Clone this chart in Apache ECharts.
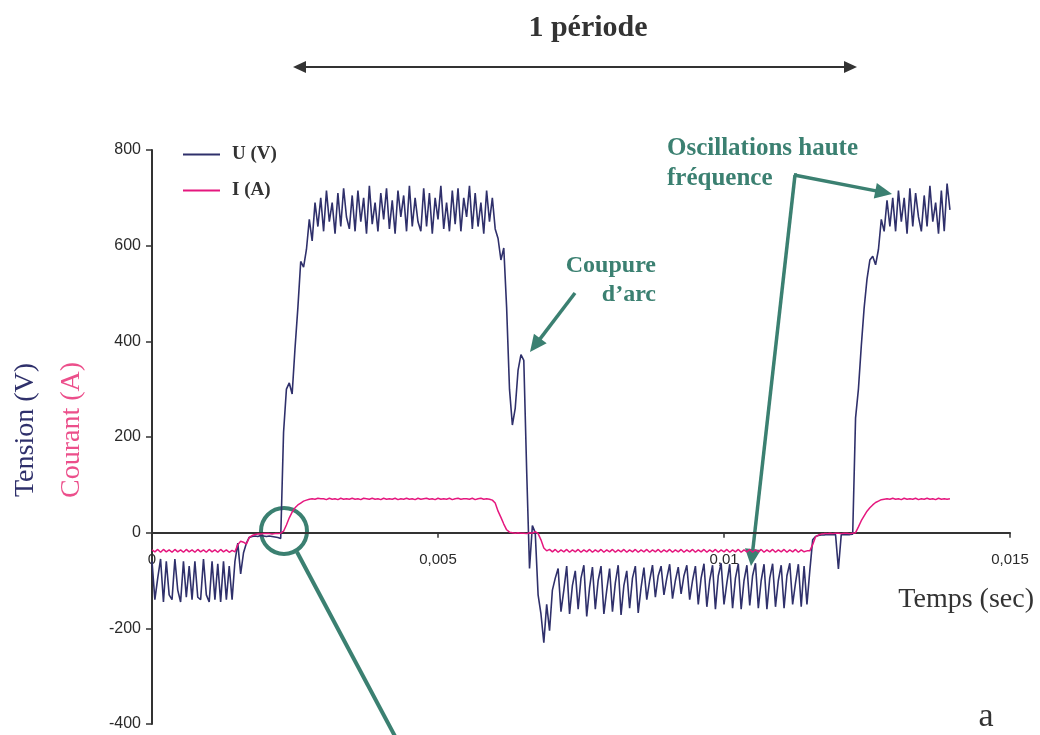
<!DOCTYPE html>
<html>
<head>
<meta charset="utf-8">
<script src="https://cdn.jsdelivr.net/npm/echarts@6/dist/echarts.min.js"></script>
<style>
html,body{margin:0;padding:0;background:#fff;}
#chart{width:1040px;height:735px;}
</style>
</head>
<body>
<div id="chart"></div>
<script>
// sampling step (s) of the recorded signals
const sampleStep = 0.00005;

// Voltage U (V), one value per sample, 10 samples per row
const voltage = [
  -60, -140, -95, -55, -145, -60, -130, -140, -55, -120,
  -145, -60, -135, -70, -140, -60, -135, -140, -55, -130,
  -145, -60, -140, -65, -145, -60, -140, -70, -140, -60,
  -22, -86, -42, -22, -10, -8, -7, -8, -6, -7,
  -8, -7, -8, -9, -10, -12, 210, 300, 313, 290,
  385, 470, 567, 555, 592, 655, 610, 690, 640, 700,
  630, 715, 650, 690, 625, 710, 640, 720, 660, 635,
  705, 630, 715, 650, 700, 625, 725, 645, 690, 630,
  710, 655, 720, 635, 695, 625, 715, 660, 705, 630,
  725, 640, 700, 650, 630, 720, 640, 710, 625, 700,
  655, 725, 635, 690, 630, 715, 645, 720, 630, 700,
  660, 725, 635, 710, 640, 690, 625, 715, 650, 700,
  635, 615, 570, 595, 470, 300, 225, 260, 340, 372,
  360, 130, -75, 15, 0, -130, -170, -230, -150, -205,
  -120, -95, -75, -165, -120, -70, -170, -110, -80, -160,
  -95, -68, -175, -115, -72, -160, -100, -70, -170, -120,
  -75, -165, -105, -68, -172, -110, -80, -158, -95, -70,
  -168, -115, -73, -140, -100, -68, -135, -90, -70, -130,
  -95, -66, -138, -100, -72, -128, -90, -68, -140, -100,
  -70, -150, -95, -65, -155, -100, -68, -160, -90, -64,
  -150, -105, -66, -158, -95, -65, -160, -100, -68, -152,
  -90, -64, -158, -100, -66, -160, -95, -65, -155, -100,
  -68, -158, -90, -64, -150, -105, -66, -155, -70, -150,
  -80, -15, -8, -6, -5, -5, -4, -4, -4, -4,
  -76, -4, -4, -4, -4, -3, 240, 300, 390, 470,
  530, 570, 578, 560, 592, 655, 630, 695, 640, 700,
  630, 715, 650, 700, 625, 720, 640, 710, 660, 630,
  705, 640, 725, 650, 690, 625, 715, 630, 730, 675
];

// Current I (A), same sampling
const current = [
  -36, -40, -35, -41, -35, -40, -36, -41, -35, -40,
  -36, -41, -35, -40, -36, -41, -35, -40, -36, -41,
  -35, -40, -36, -41, -35, -40, -36, -41, -37, -40,
  -25, -18, -20, -24, -10, -6, -4, -3, -3, -2,
  -2, -2, -3, -2, -2, -1, 3, 16, 31, 43,
  52, 58, 62, 66, 68, 70, 71, 70, 72, 71,
  71, 69, 72, 70, 71, 69, 72, 70, 71, 70,
  72, 70, 71, 69, 72, 71, 70, 72, 70, 71,
  69, 72, 70, 71, 70, 72, 69, 71, 70, 72,
  70, 71, 69, 72, 70, 71, 72, 70, 71, 69,
  72, 70, 71, 70, 72, 69, 71, 72, 70, 71,
  71, 70, 72, 69, 71, 72, 70, 71, 70, 68,
  62, 45, 32, 18, 6, 1, 0, -1, 0, -1,
  -1, -2, 0, -1, 2, -2, -15, -32, -38, -35,
  -40, -35, -41, -36, -40, -35, -41, -36, -40, -35,
  -41, -36, -40, -35, -41, -36, -40, -35, -41, -36,
  -40, -35, -41, -36, -40, -35, -41, -36, -40, -35,
  -41, -36, -40, -35, -41, -36, -40, -35, -41, -36,
  -40, -35, -41, -36, -40, -35, -41, -36, -40, -35,
  -41, -36, -40, -35, -41, -36, -40, -35, -41, -36,
  -40, -35, -41, -36, -40, -35, -41, -36, -40, -35,
  -41, -36, -40, -35, -41, -36, -40, -35, -41, -36,
  -40, -35, -41, -36, -40, -35, -41, -36, -40, -38,
  -38, -25, -9, -5, -3, -2, -2, -1, -2, -1,
  -1, -2, -1, -1, -2, -1, 0, 12, 25, 35,
  45, 52, 58, 63, 66, 69, 70, 71, 70, 72,
  70, 71, 69, 72, 70, 71, 70, 72, 69, 71,
  70, 72, 70, 71, 69, 72, 70, 71, 70, 71
];

const seriesNames = ['U (V)', 'I (A)'];
const xTicks = [0, 0.005, 0.01, 0.015];
const yTicks = [-400, -200, 0, 200, 400, 600, 800];

const NAVY = '#2f306b';
const PINK = '#e5177e';
const TEAL = '#3b8071';
const DARK = '#333333';
const SERIF = '"Liberation Serif", "Times New Roman", serif';
const SANS = '"Liberation Sans", Arial, sans-serif';

const GRID = { left: 152, right: 30, top: 150, bottom: 11 };
const plotH = 735 - GRID.top - GRID.bottom;
const yMin = yTicks[0], yMax = yTicks[yTicks.length - 1];
// shift the x axis (line, ticks and labels) up to the value 0
const xAxisOffset = -plotH * (0 - yMin) / (yMax - yMin);

const uData = voltage.map((v, i) => [+(i * sampleStep).toFixed(6), v]);
const iData = current.map((v, i) => [+(i * sampleStep).toFixed(6), v]);

function arrow(x1, y1, x2, y2, color, w, headLen, headHalf) {
  const dx = x2 - x1, dy = y2 - y1, L = Math.sqrt(dx * dx + dy * dy);
  const ux = dx / L, uy = dy / L;
  const bx = x2 - ux * headLen, by = y2 - uy * headLen;
  return [
    { type: 'line', shape: { x1: x1, y1: y1, x2: bx + ux * 2, y2: by + uy * 2 }, style: { stroke: color, lineWidth: w }, silent: true },
    { type: 'polygon', shape: { points: [[x2, y2], [bx - uy * headHalf, by + ux * headHalf], [bx + uy * headHalf, by - ux * headHalf]] }, style: { fill: color }, silent: true }
  ];
}

const graphics = [];
graphics.push(...arrow(575, 67, 857, 67, DARK, 2, 13, 6));
graphics.push(...arrow(575, 67, 293, 67, DARK, 2, 13, 6));
graphics.push(...arrow(575, 293, 530, 352, TEAL, 3.5, 17, 8));
graphics.push({ type: 'line', shape: { x1: 794, y1: 175, x2: 797, y2: 175 }, style: { stroke: TEAL, lineWidth: 3.5 }, silent: true });
graphics.push(...arrow(794, 175, 892, 194, TEAL, 3.5, 17, 8));
graphics.push(...arrow(795, 175, 751, 566, TEAL, 3.5, 17, 8));
graphics.push({ type: 'circle', shape: { cx: 284, cy: 531, r: 23 }, style: { stroke: TEAL, lineWidth: 4, fill: null }, silent: true });
graphics.push({ type: 'line', shape: { x1: 297, y1: 552, x2: 397, y2: 740 }, style: { stroke: TEAL, lineWidth: 4 }, silent: true });

function txt(text, x, y, font, fill, align, rot) {
  return { type: 'text', x: x, y: y, rotation: rot || 0, silent: true,
    style: { text: text, font: font, fill: fill, textAlign: align || 'left', textVerticalAlign: 'middle' } };
}
graphics.push(txt('1 période', 588, 28, 'bold 30px ' + SERIF, DARK, 'center'));
graphics.push(txt('Oscillations haute', 667, 149, 'bold 25px ' + SERIF, TEAL, 'left'));
graphics.push(txt('fréquence', 667, 179, 'bold 25px ' + SERIF, TEAL, 'left'));
graphics.push(txt('Coupure', 656, 266, 'bold 24px ' + SERIF, TEAL, 'right'));
graphics.push(txt('d\u2019arc', 656, 295, 'bold 24px ' + SERIF, TEAL, 'right'));
graphics.push(txt('Temps (sec)', 1034, 600, '28px ' + SERIF, DARK, 'right'));
graphics.push(txt('Tension (V)', 26, 430, '28px ' + SERIF, NAVY, 'center', Math.PI / 2));
graphics.push(txt('Courant (A)', 72, 430, '28px ' + SERIF, '#ec4f8b', 'center', Math.PI / 2));
graphics.push(txt('a', 986, 717, '34px ' + SERIF, DARK, 'center'));

const chart = echarts.init(document.getElementById('chart'), null, { renderer: 'canvas' });
chart.setOption({
  animation: false,
  backgroundColor: '#ffffff',
  grid: { left: GRID.left, right: GRID.right, top: GRID.top, bottom: GRID.bottom, containLabel: false, outerBoundsMode: 'none' },
  legend: {
    data: seriesNames,
    orient: 'vertical',
    left: 183, top: 145, padding: 0,
    icon: 'rect',
    itemWidth: 37, itemHeight: 2, itemGap: 17,
    textStyle: { fontFamily: SERIF, fontWeight: 'bold', fontSize: 19, color: DARK, padding: [0, 0, 0, 7] }
  },
  xAxis: {
    type: 'value',
    min: xTicks[0], max: xTicks[xTicks.length - 1], interval: xTicks[1] - xTicks[0],
    offset: xAxisOffset,
    axisLine: { onZero: false, lineStyle: { color: DARK, width: 2 } },
    axisTick: { show: true, inside: false, length: 5, lineStyle: { color: DARK, width: 1.5 } },
    axisLabel: { margin: 20, fontFamily: SANS, fontSize: 15, color: '#2a2a2a',
      formatter: v => String(+v.toFixed(4)).replace('.', ',') },
    splitLine: { show: false }
  },
  yAxis: {
    type: 'value',
    min: yMin, max: yMax, interval: yTicks[1] - yTicks[0],
    axisLine: { show: true, onZero: false, lineStyle: { color: DARK, width: 2 } },
    axisTick: { show: true, inside: false, length: 6, lineStyle: { color: DARK, width: 1.5 } },
    axisLabel: { margin: 11, fontFamily: SANS, fontSize: 16, color: '#2a2a2a' },
    splitLine: { show: false }
  },
  series: [
    { name: seriesNames[0], type: 'line', data: uData, symbol: 'none', showSymbol: false,
      lineStyle: { color: NAVY, width: 1.6 }, itemStyle: { color: NAVY }, z: 2 },
    { name: seriesNames[1], type: 'line', data: iData, symbol: 'none', showSymbol: false,
      lineStyle: { color: PINK, width: 1.5 }, itemStyle: { color: PINK }, z: 3 }
  ],
  graphic: graphics
});
</script>
</body>
</html>
